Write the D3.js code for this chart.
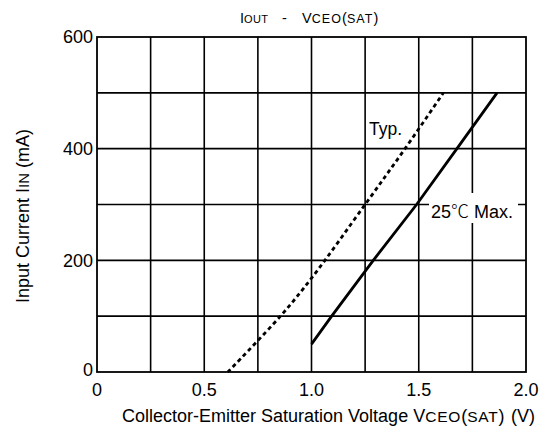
<!DOCTYPE html>
<html lang="en">
<head>
	<meta charset="UTF-8">
	<title>IOUT - VCEO(SAT)</title>
	<script src="https://cdn.jsdelivr.net/npm/d3@7"></script>
	<style>
		body { margin: 0; background: #fff; }
		svg { display: block; font-family: "Liberation Sans", Arial, sans-serif; }
		.grid line { stroke: #000; stroke-width: 1.6; }
		.lbl { font-size: 18px; fill: #000; }
	</style>
</head>
<body>
	<div id="container"></div>
	<script>
		// x gridlines every 0.25 V, y gridlines every 100 mA
		var xTicks = [0, 0.5, 1.0, 1.5, 2.0];
		var xTickLabels = ["0", "0.5", "1.0", "1.5", "2.0"];
		var yTicks = [0, 200, 400, 600];
		var xGrid = [0.25, 0.5, 0.75, 1.0, 1.25, 1.5, 1.75];
		var yGrid = [100, 200, 300, 400, 500];

		// Typ. curve (dashed)
		var typV = [0.61, 0.855, 1.0, 1.25, 1.436, 1.615];
		var typI = [0, 100, 168, 300, 400, 500];
		// 25 C Max. curve (solid)
		var maxV = [1.0, 1.094, 1.288, 1.49, 1.678, 1.865];
		var maxI = [50, 100, 200, 300, 400, 500];

		var width = 547, height = 443;
		var plotL = 97, plotR = 526, plotT = 37, plotB = 372;

		var svg = d3.select("#container").append("svg")
			.attr("width", width)
			.attr("height", height);

		var x = d3.scaleLinear().domain([0, 2]).range([plotL, plotR]);
		var y = d3.scaleLinear().domain([0, 600]).range([plotB, plotT]);

		var grid = svg.append("g").attr("class", "grid");
		grid.selectAll(".vx").data(xGrid).enter().append("line")
			.attr("x1", function(d){ return x(d); })
			.attr("x2", function(d){ return x(d); })
			.attr("y1", y(0)).attr("y2", y(600));
		grid.selectAll(".hy").data(yGrid).enter().append("line")
			.attr("x1", x(0)).attr("x2", x(2))
			.attr("y1", function(d){ return y(d); })
			.attr("y2", function(d){ return y(d); });

		// frame
		svg.append("rect")
			.attr("x", x(0)).attr("y", y(600))
			.attr("width", x(2) - x(0)).attr("height", y(0) - y(600))
			.attr("fill", "none").attr("stroke", "#000").attr("stroke-width", 1.8);

		var line = d3.line()
			.x(function(d){ return x(d[0]); })
			.y(function(d){ return y(d[1]); });

		svg.append("path")
			.datum(d3.zip(typV, typI))
			.attr("d", line.curve(d3.curveCatmullRom))
			.attr("fill", "none").attr("stroke", "#000")
			.attr("stroke-width", 2.8).attr("stroke-dasharray", "4,3.3");

		svg.append("path")
			.datum(d3.zip(maxV, maxI))
			.attr("d", line.curve(d3.curveLinear))
			.attr("fill", "none").attr("stroke", "#000")
			.attr("stroke-width", 2.8);

		// tick labels
		svg.selectAll(".xt").data(xTicks).enter().append("text")
			.attr("class", "lbl")
			.attr("x", function(d){ return x(d); })
			.attr("y", 396)
			.attr("text-anchor", "middle")
			.text(function(d, i){ return xTickLabels[i]; });

		svg.selectAll(".yt").data(yTicks).enter().append("text")
			.attr("class", "lbl")
			.attr("x", 93)
			.attr("y", function(d){ return y(d); })
			.attr("dy", function(d){ return d === 0 ? "0.2em" : "0.35em"; })
			.attr("text-anchor", "end")
			.text(function(d){ return d; });

		// annotations
		svg.append("text").attr("class", "lbl")
			.attr("x", 369).attr("y", 135)
			.style("font-size", "17.5px")
			.text("Typ.");

		var maxLbl = svg.append("g");
		maxLbl.append("rect")
			.attr("x", 429).attr("y", 193).attr("width", 89).attr("height", 30)
			.attr("fill", "#fff");
		var mt = maxLbl.append("text").attr("class", "lbl")
			.attr("x", 431).attr("y", 218);
		mt.append("tspan").text("25");
		mt.append("tspan").style("font-family", "'Noto Sans CJK JP'").style("font-weight", "300").text("\u2103");
		mt.append("tspan").text(" Max.");

		// title: I(OUT) - V(CEO)(SAT)
		var title = svg.append("text")
			.attr("x", 240).attr("y", 23)
			.style("font-size", "14.5px");
		title.append("tspan").text("I");
		title.append("tspan").style("font-size", "11px").style("letter-spacing", "0.4px").text("OUT");
		title.append("tspan").attr("x", 282).text("-");
		title.append("tspan").attr("x", 302).text("V");
		title.append("tspan").style("font-size", "12.5px").style("letter-spacing", "1.1px").text("CEO");
		title.append("tspan").text("(");
		title.append("tspan").style("font-size", "12.5px").style("letter-spacing", "1.1px").text("SAT");
		title.append("tspan").text(")");

		// x axis label
		var xl = svg.append("text").attr("class", "lbl")
			.attr("x", 122).attr("y", 422);
		xl.append("tspan").text("Collector-Emitter Saturation Voltage V");
		xl.append("tspan").style("font-size", "15.5px").style("letter-spacing", "0.8px").text("CEO");
		xl.append("tspan").text("(");
		xl.append("tspan").style("font-size", "15.5px").style("letter-spacing", "0.8px").text("SAT");
		xl.append("tspan").text(")");
		xl.append("tspan").attr("x", 511).text("(V)");

		// y axis label
		var yl = svg.append("text").attr("class", "lbl")
			.attr("transform", "translate(29,216) rotate(-90)")
			.attr("text-anchor", "middle");
		yl.append("tspan").text("Input Current I");
		yl.append("tspan").style("font-size", "15px").text("IN");
		yl.append("tspan").text(" (mA)");
	</script>
</body>
</html>
